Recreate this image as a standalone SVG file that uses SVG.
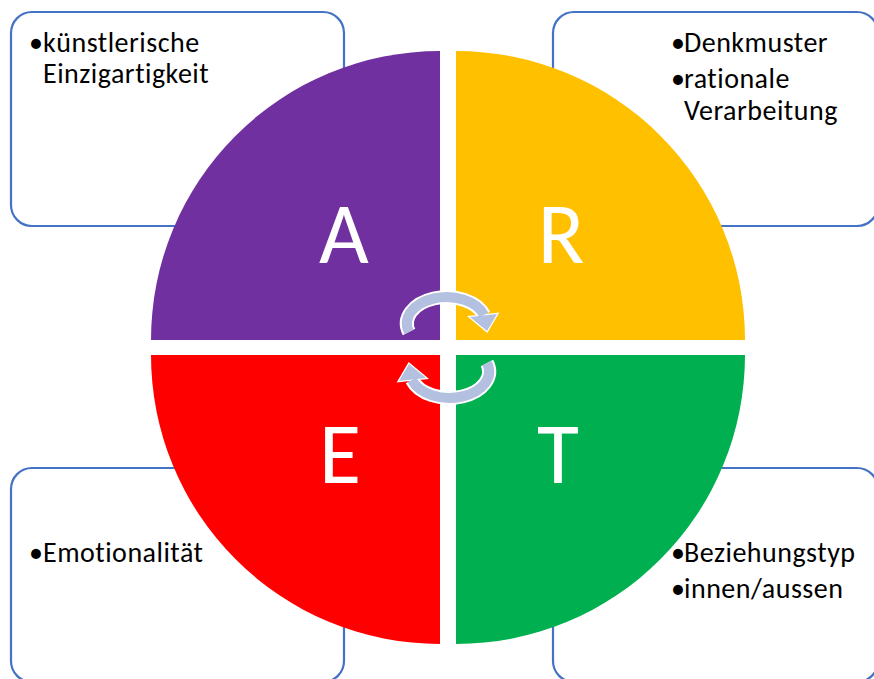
<svg xmlns="http://www.w3.org/2000/svg" width="874" height="679" viewBox="0 0 874 679">
<style>
.box{fill:#fff;stroke:#4472C4;stroke-width:2.2}
.t{font-family:Carlito,Lato,"Liberation Sans",sans-serif;font-size:28px;letter-spacing:0.5px;font-variant-ligatures:none;fill:#000}
.big{font-family:Carlito,Lato,"Liberation Sans",sans-serif;font-size:86px;fill:#fff;text-anchor:middle}
.aw{fill:none;stroke:#fff;stroke-width:14}
.af{fill:none;stroke:#B4C0E0;stroke-width:10}
.hw{fill:#fff;stroke:#fff;stroke-width:2.5;stroke-linejoin:miter}
.hf{fill:#B4C0E0}
</style>
<defs>
<g id="arrow">
<path class="aw" d="M409,332 A39,26 0 0 1 484,315"/>
<polygon class="hw" points="470,317 497,314 487,331"/>
<path class="af" d="M409,332 A39,26 0 0 1 484,315"/>
<polygon class="hf" points="470,317 497,314 487,331"/>
</g>
</defs>
<g id="box-tl"><rect class="box" x="11" y="12" width="333" height="214" rx="21"/>
<text class="t" y="52"><tspan x="29">•</tspan><tspan x="43">künstlerische</tspan></text>
<text class="t" x="43" y="83">Einzigartigkeit</text></g>
<g id="box-tr"><rect class="box" x="553" y="12" width="325" height="214" rx="21"/>
<text class="t" y="52"><tspan x="671">•</tspan><tspan x="684">Denkmuster</tspan></text>
<text class="t" y="88"><tspan x="671">•</tspan><tspan x="684">rationale</tspan></text>
<text class="t" x="684" y="120">Verarbeitung</text></g>
<g id="box-bl"><rect class="box" x="11" y="468" width="333" height="214" rx="21"/>
<text class="t" y="562"><tspan x="29">•</tspan><tspan x="43">Emotionalität</tspan></text></g>
<g id="box-br"><rect class="box" x="553" y="468" width="325" height="214" rx="21"/>
<text class="t" y="562"><tspan x="671">•</tspan><tspan x="684">Beziehungstyp</tspan></text>
<text class="t" y="598"><tspan x="671">•</tspan><tspan x="684">innen/aussen</tspan></text></g>
<g id="q-a"><path fill="#7030A0" d="M440,340 L151,340 A289,289 0 0 1 440,51 Z"/><text class="big" x="344" y="263">A</text></g>
<g id="q-r"><path fill="#FFC000" d="M456,340 L456,51 A289,289 0 0 1 745,340 Z"/><text class="big" x="561" y="263">R</text></g>
<g id="q-e"><path fill="#FF0000" d="M440,355 L440,644 A289,289 0 0 1 151,355 Z"/><text class="big" x="340" y="483">E</text></g>
<g id="q-t"><path fill="#00B050" d="M456,355 L745,355 A289,289 0 0 1 456,644 Z"/><text class="big" x="558" y="483">T</text></g>
<g id="connectors">
<use href="#arrow"/>
<use href="#arrow" transform="rotate(180 448 347.5)"/>
</g>
</svg>
